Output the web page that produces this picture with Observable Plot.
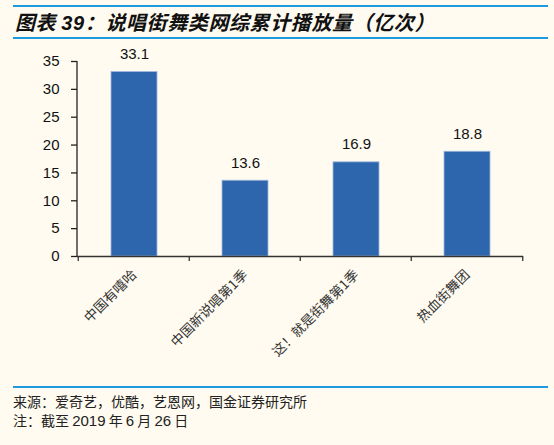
<!DOCTYPE html>
<html>
<head>
<meta charset="utf-8">
<script src="https://cdn.jsdelivr.net/npm/d3@7"></script>
<script src="https://cdn.jsdelivr.net/npm/@observablehq/plot@0.6"></script>
<style>
  body { margin: 0; background: #fffbf0; width: 554px; height: 445px; position: relative; overflow: hidden; }
  .rule { position: absolute; left: 13px; width: 535px; height: 2px; background: #1e9be0; }
  #title { position: absolute; left: 15px; top: 7px; font: italic bold 20px "Noto Sans CJK SC", sans-serif; letter-spacing: 0.6px; color: #111; white-space: nowrap; }
  #chart { position: absolute; left: 0; top: 40px; }
  .note { position: absolute; left: 13px; font: 14px "Noto Sans CJK SC", sans-serif; color: #222; white-space: nowrap; }
  .note .num { font-family: "Liberation Sans", Arial, sans-serif; font-size: 15px; }
</style>
</head>
<body>
<div class="rule" style="top:5px"></div>
<div id="title">图表 <span style="font-family:'Liberation Sans',Arial,sans-serif">39</span>：说唱街舞类网综累计播放量（亿次）</div>
<div class="rule" style="top:37px"></div>
<div id="chart"></div>
<div class="rule" style="top:386px"></div>
<div class="note" style="top:391px">来源：爱奇艺，优酷，艺恩网，国金证券研究所</div>
<div class="note" style="top:410px">注：截至 <span class="num">2019</span> 年 <span class="num">6</span> 月 <span class="num">26</span> 日</div>
<script>
const shows = ["中国有嘻哈", "中国新说唱第1季", "这！就是街舞第1季", "热血街舞团"]
const plays = [33.1, 13.6, 16.9, 18.8]
const yTicks = [0, 5, 10, 15, 20, 25, 30, 35]

const data = shows.map((s, i) => ({show: s, value: plays[i]}))

const chart = Plot.plot({
  width: 554,
  height: 340,
  marginTop: 21,
  marginBottom: 124,
  marginLeft: 77,
  marginRight: 31,
  style: {background: "transparent", fontFamily: "'Liberation Sans', Arial, sans-serif", fontSize: "14px", color: "#111"},
  x: {domain: shows, paddingInner: 0.59, paddingOuter: 0.295, label: null},
  y: {domain: [0, 35], ticks: yTicks, label: null},
  marks: [
    Plot.barY(data, {x: "show", y: "value", fill: "#2e66ae", stroke: "#9cb8dc", strokeWidth: 0.8}),
    Plot.text(data, {x: "show", y: "value", text: d => d.value.toFixed(1), dy: -18, fontSize: 15, fill: "#111"}),
    Plot.axisY({ticks: yTicks, tickSize: 6, tickPadding: 12, fontSize: 15, stroke: "#222", strokeWidth: 1.3}),
    Plot.axisX({tickSize: 0, tickRotate: -45, tickPadding: 16, fontSize: 13.5, fontFamily: "'Noto Sans CJK SC', sans-serif", fill: "#333"}),
    Plot.ruleY([0], {stroke: "#333", strokeWidth: 1.5})
  ]
})

d3.select("#chart").append(() => chart)

const xs = chart.scale("x")
const ys = chart.scale("y")
const svg = d3.select(chart)
const y0 = ys.apply(0)

// y axis line
svg.append("line")
  .attr("x1", 77).attr("x2", 77)
  .attr("y1", ys.apply(35)).attr("y2", y0)
  .attr("stroke", "#222").attr("stroke-width", 1.3)

// category boundary ticks below the axis
const edges = shows.map(s => xs.apply(s) - xs.step * 0.295)
edges.push(xs.apply(shows[shows.length - 1]) + xs.bandwidth + xs.step * 0.295)
svg.selectAll("line.edge").data(edges).join("line")
  .attr("class", "edge")
  .attr("x1", d => d).attr("x2", d => d)
  .attr("y1", y0).attr("y2", y0 + 5)
  .attr("stroke", "#333").attr("stroke-width", 1.3)
</script>
</body>
</html>
